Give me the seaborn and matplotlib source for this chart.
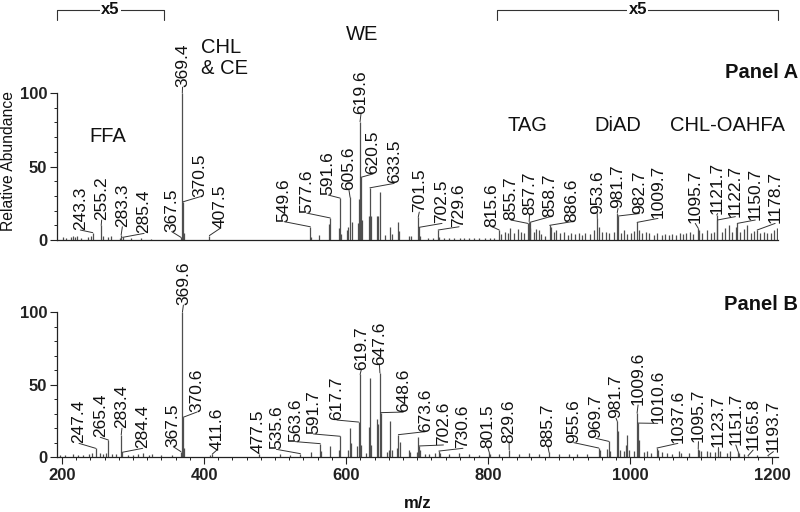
import numpy as np
import matplotlib
matplotlib.use("Agg")
import matplotlib.pyplot as plt
from matplotlib.ticker import MultipleLocator, FixedLocator
import seaborn as sns

sns.set_theme(style="ticks")
plt.rcParams["font.family"] = ["Liberation Sans", "DejaVu Sans"]

# ── DATA ────────────────────────────────────────────────────
# Panel A: peak m/z and displayed relative abundance (x5 regions already scaled)
PEAKS_A_MZ = [
    202, 205, 213, 216, 219, 221, 227, 236, 241, 243.3, 255.2, 257.5, 265, 269,
    281, 283.3, 285.4, 297, 311, 325,
    367.5, 369.4, 370.5, 371.5, 407.5,
    549.6, 551, 562.5, 575.5, 577.6, 590, 591.6, 593, 601, 603, 605.6, 607.6,
    616.3, 617.7, 619.6, 620.5, 623, 632, 633.5, 635, 643, 645, 647.4, 655,
    662.4, 664, 673.2, 675, 688, 692, 701.5, 702.5, 704,
    715, 722, 729.6, 731, 738, 745, 752, 760, 766, 773, 780, 787, 795, 802, 808,
    815.6, 818, 823, 827.6, 831.4, 837, 841.7, 845.5, 850, 855.7, 857.7, 858.7,
    859.5, 864, 868, 871, 875, 880, 886.6, 889, 892, 896, 901.8, 906.5, 912,
    916, 921.6, 927.6, 932.4, 937, 943.3, 949, 953.6, 956, 960.6, 965.4, 970,
    976.9, 981.7, 982.7, 987.3, 991, 995.8, 1000.4, 1005, 1009.7, 1012, 1016.9,
    1021.6, 1026, 1033, 1038, 1044.6, 1049, 1054, 1059, 1063.8, 1070, 1074.5,
    1079, 1084, 1088.7, 1095.7, 1097, 1101.4, 1107.5, 1113, 1117.7, 1121.7,
    1122.7, 1129.6, 1134, 1139, 1143.7, 1148.3, 1150.7, 1155, 1160, 1164.8,
    1169.5, 1174, 1178.7, 1183, 1188, 1192.7, 1198, 1203, 1206.5,
]
PEAKS_A_INT = [
    2, 1.5, 2, 2.5, 2, 2.5, 1.5, 2, 2.5, 5, 10, 2.5, 2, 2.5,
    1.5, 3.4, 1.8, 1.2, 1.5, 1,
    1.8, 100, 26, 5, 3,
    9, 2, 3.4, 10.7, 15, 7.9, 28.5, 4, 6.8, 9, 29, 12.5,
    11.3, 28, 80.5, 42.6, 13.6, 16, 35.5, 16, 16, 16, 33, 3.4,
    9, 4, 12.5, 6, 2.5, 3, 15.5, 8.6, 2.5,
    1.5, 1.2, 6.8, 2, 1.2, 1.5, 1.2, 1.5, 1.2, 1.5, 1.2, 1.5, 1.2, 1.5, 1.2,
    6.8, 4, 5.7, 5, 7.9, 4.5, 7.3, 5.7, 4.5, 11.3, 12.5, 12,
    7.9, 5.7, 7.3, 6.8, 4.1, 3, 10, 8.6, 5.7, 6.8, 4.5, 5.7, 3.4,
    4.5, 4.1, 5, 3.4, 4.5, 4.1, 6.8, 14.7, 9, 5.7, 5.7, 4.5,
    5.7, 18.6, 16.3, 4.5, 6.8, 4.1, 5, 6.3, 12, 6.8, 4.5,
    5.7, 4.5, 3.4, 4.5, 3.4, 4.1, 3.4, 4.1, 3.4, 5, 4.1,
    4.5, 5.7, 4.1, 8, 6.8, 4.5, 6.8, 5, 5.7, 17,
    13.6, 5.7, 7.9, 10.2, 5.7, 9, 11.3, 5.7, 7.3, 10.2,
    4.5, 6.1, 6.8, 4.5, 5.7, 5, 4.5, 6.8, 7.9,
]

# Panel B
PEAKS_B_MZ = [
    197.6, 204, 216, 223, 230, 237.5, 242, 247.4, 254, 257.7, 262.4, 265.4, 270,
    276.5, 283.4, 284.4, 292.5, 300, 306.5, 314, 322, 326.7, 340, 355,
    367.5, 369.6, 370.6, 371.6, 407.8, 411.6,
    477.5, 507.5, 521.5, 535.6, 550.7, 563.6, 565, 578, 590, 591.7, 602.3, 605,
    607.5, 615.4, 617.7, 619.7, 621, 628.6, 631.8, 633.8, 635.6, 643.7, 645.5,
    647.6, 648.6, 657.7, 660.6, 662.4, 664, 671.8, 673.6, 675.5, 688, 690, 700,
    701.6, 702.6, 704, 711.7, 716, 725,
    730.6, 732, 744.5, 758.6, 772.7, 786.8, 801.5, 803, 815, 829.6, 843, 857,
    871, 885.7, 899.4, 913.5, 925.3, 939.4, 955.6, 957, 967.6, 969.7, 971,
    981.7, 983, 985, 991.5, 994, 995.9, 998, 1005.6, 1009.6, 1010.6, 1012,
    1018.8, 1023, 1028.6, 1037.6, 1039, 1045, 1052, 1059, 1068.5, 1072, 1082.5,
    1095.7, 1097, 1100, 1108.4, 1112, 1120, 1123.7, 1127, 1136, 1141, 1151.7,
    1153, 1159.6, 1165.8, 1178, 1193.7,
]
PEAKS_B_INT = [
    1.6, 1.6, 2, 1.6, 1.6, 2, 2.8, 6, 2.8, 2, 2.8, 11.7, 2,
    2, 15.3, 3.2, 1.6, 1.6, 2, 2.8, 1.6, 2, 1.2, 1.2,
    3.7, 100, 27.4, 6, 1.6, 2,
    2.3, 1.8, 1.6, 2.3, 3.4, 9.2, 4, 7.6, 4.6, 14.3, 4.6, 20,
    9.9, 7.6, 24.1, 57, 8, 3, 20.7, 54.5, 8, 26, 23,
    58, 30.6, 3.4, 4.6, 24.6, 5, 6.2, 15.4, 10.3, 4.6, 3.4, 3.4,
    13.8, 7.6, 4.6, 2.3, 2.3, 3,
    4.1, 2.5, 2.3, 2.8, 2.3, 1.6, 3.2, 2.3, 2.3, 5, 2.3, 2.8,
    2.3, 3.2, 2.3, 2.3, 2.3, 2.3, 6.2, 5, 5.5, 10.8, 3.9,
    24.6, 17.7, 5, 3.9, 8.5, 15.4, 5, 3.9, 30.3, 23.4, 11.5,
    3.2, 3.9, 2.8, 6.2, 5, 3.2, 2.8, 2.3, 3.9, 2.8, 2.8,
    5.5, 5, 3.9, 3.9, 3.2, 3.2, 6.2, 3.9, 2.8, 3.9, 3.9,
    2.8, 2.3, 0.9, 1.6, 0.9,
]

# labelled peaks (text = m/z)
LABELS_A = ["243.3", "255.2", "283.3", "285.4", "367.5", "369.4", "370.5", "407.5",
            "549.6", "577.6", "591.6", "605.6", "619.6", "620.5", "633.5", "701.5",
            "702.5", "729.6", "815.6", "855.7", "857.7", "858.7", "886.6", "953.6",
            "981.7", "982.7", "1009.7", "1095.7", "1121.7", "1122.7", "1150.7", "1178.7"]
LABELS_B = ["247.4", "265.4", "283.4", "284.4", "367.5", "369.6", "370.6", "411.6",
            "477.5", "535.6", "563.6", "591.7", "617.7", "619.7", "647.6", "648.6",
            "673.6", "702.6", "730.6", "801.5", "829.6", "885.7", "955.6", "969.7",
            "981.7", "1009.6", "1010.6", "1037.6", "1095.7", "1123.7", "1151.7",
            "1165.8", "1193.7"]

# ── LAYOUT (label text anchor: m/z, bottom height) ──────────
LABEL_POS_A = [(225.8, 6.8), (255.9, 13.6), (285, 9), (315.6, 4.5), (354.5, 5.7),
               (369.7, 104), (394.7, 29.5), (422.9, 8), (512.7, 12.5), (544.6, 18.3),
               (574.8, 30.6), (604, 34), (621, 86), (638, 45), (667.6, 38.5),
               (703, 19), (735, 11.3), (759, 9), (805.6, 9), (832, 13.6),
               (858.2, 17), (887.3, 15.9), (918, 12.5), (953.5, 18), (982.8, 21.5),
               (1012.7, 18), (1039, 14.7), (1091.5, 11.3), (1123, 18), (1148, 15.9),
               (1176, 13.6), (1204, 11.3)]
LABEL_POS_B = [(224, 9.4), (253.9, 13.6), (284.4, 19.8), (313.7, 6), (356.7, 7.1),
               (370.9, 104.8), (390, 31), (418, 4.8), (475.8, 3), (501.8, 5.3),
               (528.6, 10.6), (554, 15.9), (587, 25.5), (621.3, 60), (646.9, 63.4),
               (680.4, 31), (711.5, 17.5), (737, 8.3), (764.5, 6), (799.7, 6),
               (829.5, 9.4), (884.2, 7), (920.5, 9.9), (951.4, 12.9), (980, 26.7),
               (1011, 35.9), (1038.7, 23.2), (1067, 9.4), (1096, 10.6), (1123.7, 7.1),
               (1148.6, 8.3), (1173, 4.8), (1201.5, 3.7)]

CLASSES = [("FFA", 263.8, 70.4), ("CHL\n& CE", 396, 124), ("WE", 622, 139.5),
           ("TAG", 855.6, 77.6), ("DiAD", 982.5, 77.6), ("CHL-OAHFA", 1137, 77.6)]
X5_RANGES = [(193.5, 343), (813, 1208)]

XLIM = (193, 1208)
PEAK_COLOR = "#4f4f4f"
TEXT_COLOR = "#111111"


def peak_height(mzs, ints, target):
    i = int(np.argmin(np.abs(np.asarray(mzs) - target)))
    return ints[i]


def draw_panel(ax, mzs, ints, labels, positions, ytop):
    ax.vlines(mzs, 0, ints, color=PEAK_COLOR, linewidth=0.9)
    for lab, (lx, ly) in zip(labels, positions):
        mz = float(lab)
        h = peak_height(mzs, ints, mz)
        ax.plot([mz, lx], [h, ly], color="#333333", linewidth=0.7, clip_on=False)
        ax.text(lx, ly, lab, rotation=90, ha="center", va="bottom",
                fontsize=12.5, color=TEXT_COLOR, clip_on=False)
    ax.set_xlim(*XLIM)
    ax.set_ylim(0, ytop)
    sns.despine(ax=ax)
    ax.spines["left"].set_bounds(0, 100)
    for s in ("left", "bottom"):
        ax.spines[s].set_linewidth(0.9)
        ax.spines[s].set_color("#222222")
    ax.set_yticks([0, 50, 100])
    ax.yaxis.set_minor_locator(FixedLocator(list(range(0, 101, 10))))
    ax.tick_params(axis="y", which="major", length=5, width=0.8, pad=2,
                   labelsize=12, colors="#222222")
    ax.tick_params(axis="y", which="minor", length=2.5, width=0.7, colors="#222222")
    for t in ax.get_yticklabels():
        t.set_fontweight("bold")
    ax.set_facecolor("none")


fig = plt.figure(figsize=(8, 5.12), dpi=100)
ax_a = fig.add_axes([57 / 800, 272 / 512, 721 / 800, 240 / 512])
ax_b = fig.add_axes([57 / 800, 55 / 512, 721 / 800, 197 / 512])

draw_panel(ax_a, PEAKS_A_MZ, PEAKS_A_INT, LABELS_A, LABEL_POS_A, 163.3)
draw_panel(ax_b, PEAKS_B_MZ, PEAKS_B_INT, LABELS_B, LABEL_POS_B, 135.9)

# panel A: no x ticks
ax_a.set_xticks([])

# panel B: x ticks
ax_b.set_xticks(range(200, 1201, 200))
ax_b.xaxis.set_minor_locator(MultipleLocator(20))
ax_b.tick_params(axis="x", which="major", length=5, width=0.8, pad=3,
                 labelsize=12, colors="#222222")
ax_b.tick_params(axis="x", which="minor", length=2.5, width=0.7, colors="#222222")
for t in ax_b.get_xticklabels():
    t.set_fontweight("bold")

# lipid class annotations
for txt, x, y in CLASSES:
    ax_a.text(x, y, txt, ha="center" if "\n" not in txt else "left",
              va="center", fontsize=14.5, color=TEXT_COLOR, linespacing=1.15)

# x5 brackets
for x0, x1 in X5_RANGES:
    ax_a.plot([x0, x0, x1, x1], [150, 156.5, 156.5, 150], color="#333333",
              linewidth=0.8, clip_on=False)
    ax_a.text((x0 + x1) / 2, 156.5, "x5", ha="center", va="center", fontsize=12,
              fontweight="bold", color=TEXT_COLOR,
              bbox=dict(facecolor="white", edgecolor="none", pad=1))

ax_a.text(-0.067, 0.331, "Relative Abundance", transform=ax_a.transAxes,
          rotation=90, ha="center", va="center", fontsize=11.3, color=TEXT_COLOR)
fig.text(418 / 800, 9 / 512, "m/z", ha="center", va="center", fontsize=12,
         fontweight="bold", color=TEXT_COLOR)
fig.text(798 / 800, 440 / 512, "Panel A", ha="right", va="center", fontsize=14.5,
         fontweight="bold", color=TEXT_COLOR)
fig.text(798 / 800, 208 / 512, "Panel B", ha="right", va="center", fontsize=14.5,
         fontweight="bold", color=TEXT_COLOR)

fig.savefig("out.png", dpi=100, facecolor="white")
